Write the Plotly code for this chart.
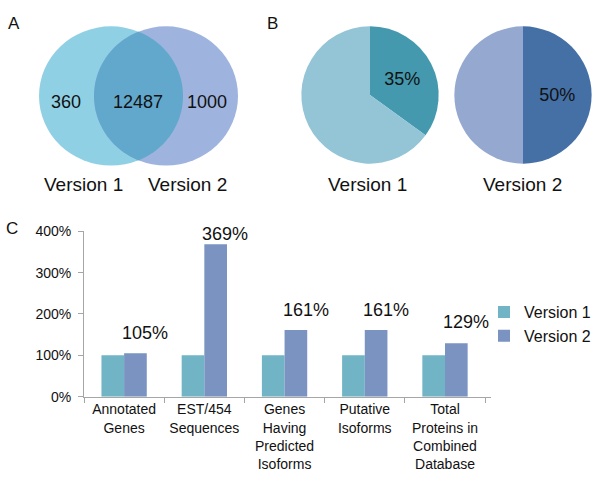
import numpy as np
import plotly.graph_objects as go

# 数据
venn_counts = [360, 12487, 1000]          # 仅版本1, 共有, 仅版本2
venn_names = ["Version 1", "Version 2"]
pie_v1 = [35, 65]
pie_v2 = [50, 50]
categories = ["Annotated<br>Genes", "EST/454<br>Sequences", "Genes<br>Having<br>Predicted<br>Isoforms",
              "Putative<br>Isoforms", "Total<br>Proteins in<br>Combined<br>Database"]
v1_vals = [100, 100, 100, 100, 100]
v2_vals = [105, 369, 161, 161, 129]

W, H = 600, 482
FONT = "Liberation Sans, Arial, sans-serif"


def px(x):
    return x / W


def py_(y):
    return 1 - y / H


fig = go.Figure()

# C 柱状图
fig.add_trace(go.Bar(x=categories, y=v1_vals, name="Version 1", marker_color="#70b4c5",
                     marker_line_width=0))
fig.add_trace(go.Bar(x=categories, y=v2_vals, name="Version 2", marker_color="#7a93c0",
                     marker_line_width=0))

# 柱顶标签
label_dy = [20, 10, 20, 20, 21]
for c, v, dy in zip(categories, v2_vals, label_dy):
    fig.add_annotation(x=c, y=v, xref="x", yref="y", text=f"{v}%", showarrow=False,
                       xshift=21, yshift=dy, font=dict(size=18, color="#111"))

# B 饼图
fig.add_trace(go.Pie(values=pie_v1, text=[f"{pie_v1[0]}%", ""], textinfo="text",
                     sort=False, direction="clockwise", rotation=0,
                     marker=dict(colors=["#4499ae", "#93c5d6"], line=dict(width=0)),
                     textposition="inside", insidetextorientation="horizontal",
                     textfont=dict(size=18, color="#111"), showlegend=False, hoverinfo="skip",
                     domain=dict(x=[px(299), px(441)], y=[py_(161), py_(19)])))
fig.add_trace(go.Pie(values=pie_v2, text=[f"{pie_v2[0]}%", ""], textinfo="text",
                     sort=False, direction="clockwise", rotation=0,
                     marker=dict(colors=["#4470a6", "#95a8d0"], line=dict(width=0)),
                     textposition="inside", insidetextorientation="horizontal",
                     textfont=dict(size=18, color="#111"), showlegend=False, hoverinfo="skip",
                     domain=dict(x=[px(452), px(594)], y=[py_(161), py_(19)])))

# A 韦恩图 (像素坐标轴)
c1, c2, r, cy = 111, 166, 72, 91
fig.add_shape(type="circle", xref="x3", yref="y3", x0=c1 - r, x1=c1 + r, y0=cy - r, y1=cy + r,
              fillcolor="#90d0e5", line_width=0, layer="below")
fig.add_shape(type="circle", xref="x3", yref="y3", x0=c2 - r, x1=c2 + r, y0=cy - r, y1=cy + r,
              fillcolor="#9eb3de", line_width=0, layer="below")
th = np.arccos((c2 - c1) / 2 / r)
a1 = np.linspace(-th, th, 60)
a2 = np.linspace(np.pi - th, np.pi + th, 60)
lx = np.concatenate([c1 + r * np.cos(a1), c2 + r * np.cos(a2)])
ly = np.concatenate([cy + r * np.sin(a1), cy + r * np.sin(a2)])
fig.add_trace(go.Scatter(x=lx, y=ly, xaxis="x3", yaxis="y3", fill="toself", mode="none",
                         fillcolor="#62a8cd", showlegend=False, hoverinfo="skip"))
for xx, n in zip([66, 138, 207], venn_counts):
    fig.add_annotation(x=xx, y=97, xref="x3", yref="y3", text=str(n), showarrow=False,
                       font=dict(size=18, color="#111"))

# 图下标题
for xx, t in zip([83, 187, 367, 522], venn_names + venn_names):
    fig.add_annotation(x=px(xx), y=py_(183), xref="paper", yref="paper", text=t, showarrow=False,
                       xanchor="center", yanchor="middle", font=dict(size=19, color="#111"))

# 面板字母
for xx, yy, t in [(14, 16, "A"), (272, 16, "B"), (12, 228, "C")]:
    fig.add_annotation(x=px(xx), y=py_(yy), xref="paper", yref="paper", text=t, showarrow=False,
                       xanchor="center", yanchor="middle", font=dict(size=17, color="#111"))

fig.update_layout(
    width=W, height=H, margin=dict(l=0, r=0, t=0, b=0),
    paper_bgcolor="white", plot_bgcolor="white",
    font=dict(family=FONT, color="#111"),
    barmode="group", bargap=0.435, bargroupgap=0,
    xaxis=dict(domain=[px(84), px(491)], showline=True, linecolor="#a6a6a6", linewidth=1,
               ticks="outside", tickson="boundaries", ticklen=5, tickcolor="#a6a6a6",
               tickfont=dict(size=14), showgrid=False),
    yaxis=dict(domain=[py_(402), py_(231)], range=[0, 400], dtick=100, ticksuffix="%",
               showline=True, linecolor="#a6a6a6", linewidth=1, ticks="outside", ticklen=5,
               ticklabelstandoff=4,
               tickcolor="#a6a6a6", tickfont=dict(size=14), showgrid=False, zeroline=False),
    xaxis3=dict(domain=[0, 0.5], range=[0, 300], visible=False, fixedrange=True),
    yaxis3=dict(domain=[py_(200), 1], range=[200, 0], visible=False, fixedrange=True, anchor="x3"),
    legend=dict(x=px(484), y=py_(297), xanchor="left", yanchor="top", bgcolor="rgba(0,0,0,0)",
                font=dict(size=16), tracegroupgap=0, itemwidth=30),
)
fig.update_layout(xaxis3_anchor="y3")

# 去掉页面默认边距
fig.write_html("out.html", config={"displayModeBar": False},
               post_script="document.body.style.margin='0';")
